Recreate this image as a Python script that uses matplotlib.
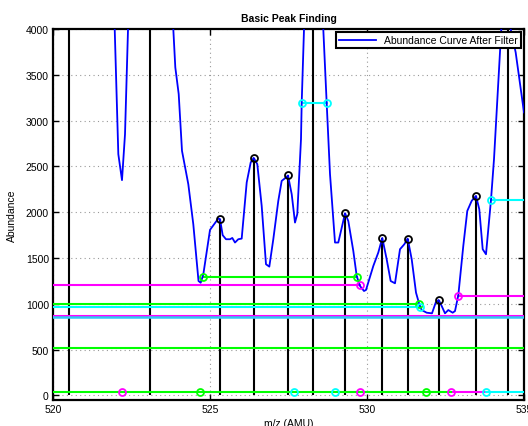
import matplotlib
matplotlib.use('Agg')
import matplotlib.pyplot as plt

plt.rcParams['font.family'] = ['Liberation Sans', 'DejaVu Sans']

# Abundance curve after filter (values above 4000 are clipped by the axes)
curve_x = [521.90, 521.965, 522.08, 522.197, 522.293, 522.389, 522.45,
           523.75, 523.831, 523.895, 524.003, 524.108, 524.309, 524.468, 524.634,
           524.704, 524.787, 525.0, 525.264, 525.318, 525.404, 525.51, 525.637,
           525.71, 525.796, 525.901, 526.009, 526.169, 526.296, 526.392, 526.506,
           526.646, 526.783, 526.889, 527.016, 527.175, 527.283, 527.42, 527.484,
           527.602, 527.707, 527.78, 527.898, 527.92, 527.994, 528.05,
           528.55, 528.608, 528.716, 528.822, 528.981, 529.086, 529.245, 529.299,
           529.404, 529.564, 529.672, 529.777, 529.904, 529.968, 530.201, 530.36,
           530.487, 530.627, 530.754, 530.892, 531.051, 531.188, 531.296, 531.424,
           531.561, 531.666, 531.742, 531.901, 532.07, 532.188, 532.283, 532.379,
           532.484, 532.589, 532.729, 532.803, 532.908, 533.067, 533.194, 533.334,
           533.471, 533.576, 533.685, 533.79, 533.949, 534.045, 534.277, 534.35,
           534.5, 534.576, 534.735, 535.0]
curve_y = [4750, 4000, 2634, 2350, 2852, 4000, 4700,
           4800, 4000, 3581, 3290, 2670, 2306, 1869, 1249,
           1230, 1322, 1807, 1931, 1925, 1749, 1705, 1705,
           1719, 1669, 1705, 1712, 2325, 2543, 2593, 2525,
           2069, 1432, 1406, 1705, 2124, 2342, 2379, 2401,
           2197, 1887, 1980, 2798, 3191, 4000, 4700,
           4700, 4000, 3191, 2415, 1669, 1669, 1905, 1989,
           1905, 1577, 1304, 1195, 1140, 1151, 1413, 1560,
           1719, 1486, 1249, 1224, 1596, 1650, 1712, 1486,
           1122, 995, 932, 903, 896, 1013, 1042, 976,
           896, 932, 903, 921, 1093, 1632, 2014, 2124,
           2178, 2033, 1596, 1541, 2134, 2579, 4000, 4600,
           4600, 4000, 3745, 3090]

# detected peaks (stems)
peak_x = [520.51, 523.09, 525.32, 526.39, 527.48, 528.28, 529.30, 530.49,
          531.30, 532.28, 533.47, 534.49]
peak_y = [9000, 9000, 1925, 2593, 2401, 9000, 1989, 1719, 1712, 1042, 2178, 9000]

# level segments: (x start, x end, level)
green_segs = [(524.77, 529.67, 1293), (518.0, 531.67, 995),
              (518.0, 537.0, 514), (518.0, 532.68, 40)]
green_pts_x = [524.77, 529.67, 531.67, 524.69, 531.89]
green_pts_y = [1293, 1293, 995, 40, 40]

magenta_segs = [(518.0, 529.78, 1200), (532.91, 537.0, 1090),
                (532.68, 533.79, 40), (518.0, 537.0, 862)]
magenta_pts_x = [529.78, 532.91, 522.19, 529.78, 532.68]
magenta_pts_y = [1200, 1090, 40, 40, 40]

cyan_segs = [(518.0, 531.67, 965), (527.92, 528.72, 3191),
             (533.95, 537.0, 2134), (533.79, 537.0, 40)]
cyan_pts_x = [531.68, 527.92, 528.72, 533.95, 527.68, 528.98, 533.79]
cyan_pts_y = [965, 3191, 3191, 2134, 40, 40, 40]

skyblue_level = 852

fig = plt.figure(figsize=(5.28, 4.27), dpi=100)
ax = fig.add_axes([0.1004, 0.0609, 0.8920, 0.8688])

ax.grid(True, linestyle=(0, (1, 3)), color='0.6', linewidth=0.8)
ax.set_axisbelow(True)

ax.vlines(peak_x, 0, peak_y, colors='k', linewidth=1.5, zorder=2)

for segs, pts_x, pts_y, col in [(magenta_segs, magenta_pts_x, magenta_pts_y, '#ff00ff'),
                                (green_segs, green_pts_x, green_pts_y, '#00ff00'),
                                (cyan_segs, cyan_pts_x, cyan_pts_y, '#00ffff')]:
    for x0, x1, lev in segs:
        ax.plot([x0, x1], [lev, lev], color=col, linewidth=1.5, zorder=3)
    ax.plot(pts_x, pts_y, 'o', mfc='none', mec=col, ms=5, mew=1.3, zorder=5)

ax.plot([518, 537], [skyblue_level, skyblue_level], color='#33c6f4', linewidth=1.8, zorder=3)

ax.plot(curve_x, curve_y, color='#0000ff', linewidth=1.3, zorder=4,
        label='Abundance Curve After Filter')
ax.plot(peak_x, peak_y, 'o', mfc='none', mec='k', ms=5, mew=1.3, zorder=6)

ax.set_xlim(520, 535)
ax.set_ylim(-50, 4000)
ax.set_xticks([520, 525, 530, 535])
ax.set_yticks(range(0, 4001, 500))
ax.tick_params(direction='in', length=4, width=1, top=True, right=True,
               labelsize=7.5, pad=3)
for s in ax.spines.values():
    s.set_linewidth(1.6)

ax.set_title('Basic Peak Finding', fontsize=7.5, fontweight='bold', pad=6)
ax.set_xlabel('m/z (AMU)', fontsize=7.5, labelpad=3)
ax.set_ylabel('Abundance', fontsize=7.5, labelpad=6)

leg = ax.legend(loc='upper right', fontsize=7.5, fancybox=False, edgecolor='k',
                framealpha=1, borderaxespad=0.3, handlelength=3.5,
                borderpad=0.3)
leg.get_frame().set_linewidth(1.5)

fig.savefig('out.png', dpi=100)
